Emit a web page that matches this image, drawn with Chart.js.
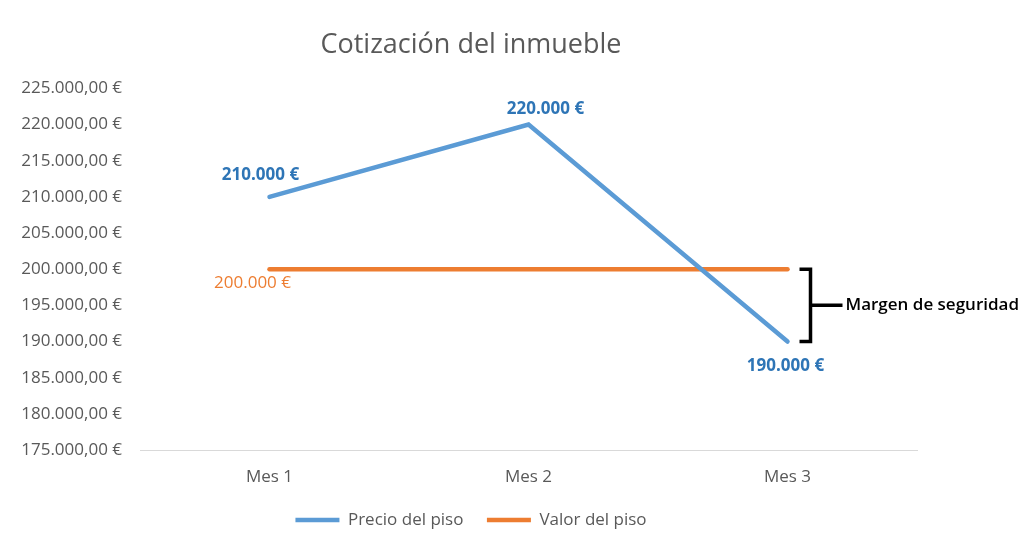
<!DOCTYPE html>
<html>
<head>
<meta charset="utf-8">
<script src="https://cdn.jsdelivr.net/npm/chart.js@4.4.0/dist/chart.umd.min.js"></script>
<style>
html,body{margin:0;padding:0;background:#fff;}
#wrap{width:1024px;height:557px;}
</style>
</head>
<body>
<div id="wrap"><canvas id="c" width="1024" height="557"></canvas></div>
<script>
const categories = ["Mes 1", "Mes 2", "Mes 3"];
const precioPiso = [210000, 220000, 190000];
const valorPiso = [200000, 200000, 200000];
const seriesNames = ["Precio del piso", "Valor del piso"];
const titleText = "Cotización del inmueble";
const yMin = 175000, yMax = 225000, yStep = 5000;
const annotationText = "Margen de seguridad";

const FONT = "'Open Sans', sans-serif";
const fmtTick = v => v.toLocaleString('de-DE', {minimumFractionDigits: 2, maximumFractionDigits: 2}) + " €";
const fmtLabel = v => v.toLocaleString('de-DE') + " €";

// label placement per dataset/point (null = no label)
const labelPlacement = [
  [{dx: -9, dy: -22}, {dx: 17, dy: -15}, {dx: -2, dy: 25}],
  [{dx: -17, dy: 14}, null, null]
];
const labelColors = ["#2E75B6", "#ED7D31"];
const labelWeights = ["bold", "normal"];

const dataLabels = {
  id: 'dataLabels',
  afterDatasetsDraw(chart) {
    const ctx = chart.ctx;
    chart.data.datasets.forEach((ds, di) => {
      const meta = chart.getDatasetMeta(di);
      meta.data.forEach((pt, i) => {
        const p = labelPlacement[di][i];
        if (!p) return;
        ctx.save();
        ctx.font = labelWeights[di] + " 17px " + FONT;
        ctx.fillStyle = labelColors[di];
        ctx.textAlign = 'center';
        ctx.textBaseline = 'middle';
        ctx.fillText(fmtLabel(ds.data[i]), pt.x + p.dx, pt.y + p.dy);
        ctx.restore();
      });
    });
  }
};

const bracket = {
  id: 'bracket',
  afterDraw(chart) {
    const ctx = chart.ctx;
    const xs = chart.scales.x, ys = chart.scales.y;
    const xLast = xs.getPixelForValue(categories.length - 1);
    const yTop = ys.getPixelForValue(valorPiso[valorPiso.length - 1]);
    const yBot = ys.getPixelForValue(precioPiso[precioPiso.length - 1]);
    const bx = xLast + 23;
    const yMid = (yTop + yBot) / 2;
    ctx.save();
    ctx.strokeStyle = '#000';
    ctx.lineWidth = 3.5;
    ctx.lineJoin = 'miter';
    ctx.beginPath();
    ctx.moveTo(bx - 11, yTop);
    ctx.lineTo(bx, yTop);
    ctx.lineTo(bx, yBot);
    ctx.lineTo(bx - 11, yBot);
    ctx.stroke();
    ctx.beginPath();
    ctx.moveTo(bx, yMid);
    ctx.lineTo(bx + 32, yMid);
    ctx.stroke();
    ctx.font = "600 17px " + FONT;
    ctx.fillStyle = '#000';
    ctx.textAlign = 'left';
    ctx.textBaseline = 'middle';
    ctx.fillText(annotationText, bx + 35, yMid);
    ctx.restore();
  }
};

new Chart(document.getElementById('c'), {
  type: 'line',
  data: {
    labels: categories,
    datasets: [
      {label: seriesNames[0], data: precioPiso, borderColor: '#5B9BD5', backgroundColor: '#5B9BD5',
       borderWidth: 4.5, pointRadius: 0, tension: 0, borderCapStyle: 'round', pointStyle: 'line'},
      {label: seriesNames[1], data: valorPiso, borderColor: '#ED7D31', backgroundColor: '#ED7D31',
       borderWidth: 4.5, pointRadius: 0, tension: 0, borderCapStyle: 'round', pointStyle: 'line'}
    ]
  },
  options: {
    responsive: false,
    animation: false,
    layout: {padding: {left: 0, right: 82, top: 0, bottom: 18.5}},
    plugins: {
      title: {display: true, text: titleText, color: '#595959',
        font: {family: FONT, size: 27, weight: 'normal'}, padding: {top: 29, bottom: 27}},
      legend: {position: 'bottom',
        labels: {usePointStyle: true, pointStyle: 'line', pointStyleWidth: 44, color: '#595959',
          font: {family: FONT, size: 17}, padding: 23.5, boxHeight: 17}},
      tooltip: {enabled: false}
    },
    scales: {
      x: {
        offset: true,
        afterFit(scale) { scale.height = 38; },
        grid: {display: false, drawTicks: false},
        border: {display: true, color: '#d9d9d9', width: 1},
        ticks: {color: '#595959', font: {family: FONT, size: 17}, padding: 17}
      },
      y: {
        min: yMin, max: yMax,
        afterFit(scale) { scale.width = 140; },
        grid: {display: false, drawTicks: false},
        border: {display: false},
        ticks: {stepSize: yStep, color: '#595959', font: {family: FONT, size: 17}, padding: 18,
          callback: v => fmtTick(v)}
      },
      yRight: {
        type: 'linear', position: 'right', axis: 'y', display: true,
        afterFit(scale) { scale.width = 25; },
        grid: {display: false, drawTicks: false},
        border: {display: false},
        ticks: {display: false}
      }
    }
  },
  plugins: [dataLabels, bracket]
});
</script>
</body>
</html>
